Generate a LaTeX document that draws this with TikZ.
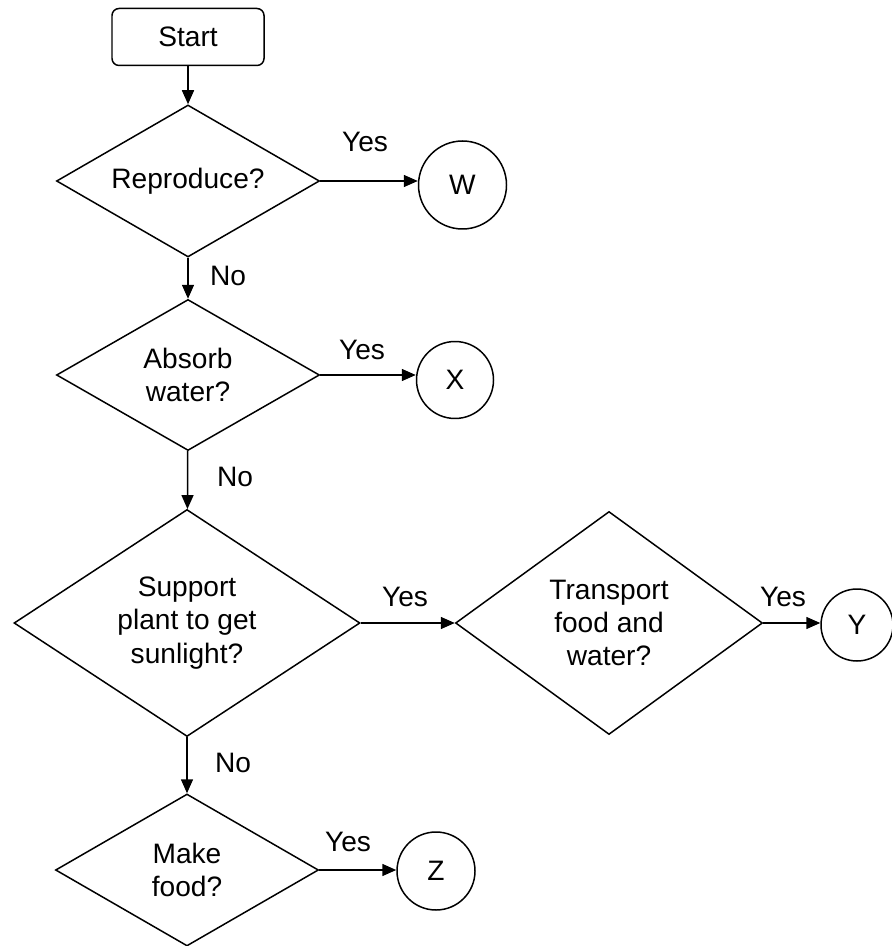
\documentclass[tikz,border=0pt]{standalone}
\usepackage{fontspec}
\setmainfont{Liberation Sans}
\usetikzlibrary{shapes.geometric,arrows.meta}

\begin{document}
\begin{tikzpicture}[
		line width=0.85pt,
		font=\fontsize{16}{19}\selectfont,
		startbox/.style={draw,rounded corners=4pt,minimum width=3.04cm,minimum height=1.14cm},
		ask/.style={draw,diamond,shape aspect=1.6,inner sep=0pt,align=center},
		endpt/.style={draw,circle,inner sep=0pt},
		arr/.style={-{Triangle[length=0.28cm,width=0.24cm]}},
		lbl/.style={inner sep=0pt}]
		\useasboundingbox (0,0) rectangle (17.82,-18.92);
		
		\node[startbox] (start) at (3.76,-0.74) {Start};
		
		\node[ask,minimum width=5.26cm,minimum height=3.04cm] (repro) at (3.76,-3.62) {Reproduce?};
		\node[ask,minimum width=5.26cm,minimum height=3.02cm] (absorb) at (3.76,-7.5) {Absorb\\water?};
		\node[ask,minimum width=6.92cm,minimum height=4.54cm] (support) at (3.74,-12.46) {Support\\plant to get\\sunlight?};
		\node[ask,minimum width=6.14cm,minimum height=4.46cm] (transport) at (12.18,-12.46) {Transport\\food and\\water?};
		\node[ask,minimum width=5.26cm,minimum height=3.04cm] (make) at (3.74,-17.4) {Make\\food?};
		
		\node[endpt,minimum size=1.76cm] (w) at (9.25,-3.7) {W};
		\node[endpt,minimum size=1.54cm] (x) at (9.1,-7.6) {X};
		\node[endpt,minimum size=1.44cm] (y) at (17.14,-12.5) {Y};
		\node[endpt,minimum size=1.56cm] (z) at (8.72,-17.42) {Z};
		
		% down the No branch
		\draw[arr] (start) -- (repro);
		\draw[arr] (repro) -- (absorb);
		\draw[arr] (absorb) -- (support);
		\draw[arr] (support) -- (make);
		
		% Yes branches
		\draw[arr] (repro.east) -- (repro.east -| w.west);
		\draw[arr] (absorb.east) -- (absorb.east -| x.west);
		\draw[arr] (support.east) -- (transport.west);
		\draw[arr] (transport.east) -- (transport.east -| y.west);
		\draw[arr] (make.east) -- (make.east -| z.west);
		
		\node[lbl] (yes1) at (7.3,-2.84) {Yes};
		\node[lbl] (no1) at (4.56,-5.52) {No};
		\node[lbl] (yes2) at (7.24,-7.0) {Yes};
		\node[lbl] (no2) at (4.7,-9.54) {No};
		\node[lbl] (yes3) at (8.1,-11.94) {Yes};
		\node[lbl] (yes4) at (15.66,-11.94) {Yes};
		\node[lbl] (no3) at (4.66,-15.26) {No};
		\node[lbl] (yes5) at (6.96,-16.84) {Yes};
	\end{tikzpicture}
\end{document}
